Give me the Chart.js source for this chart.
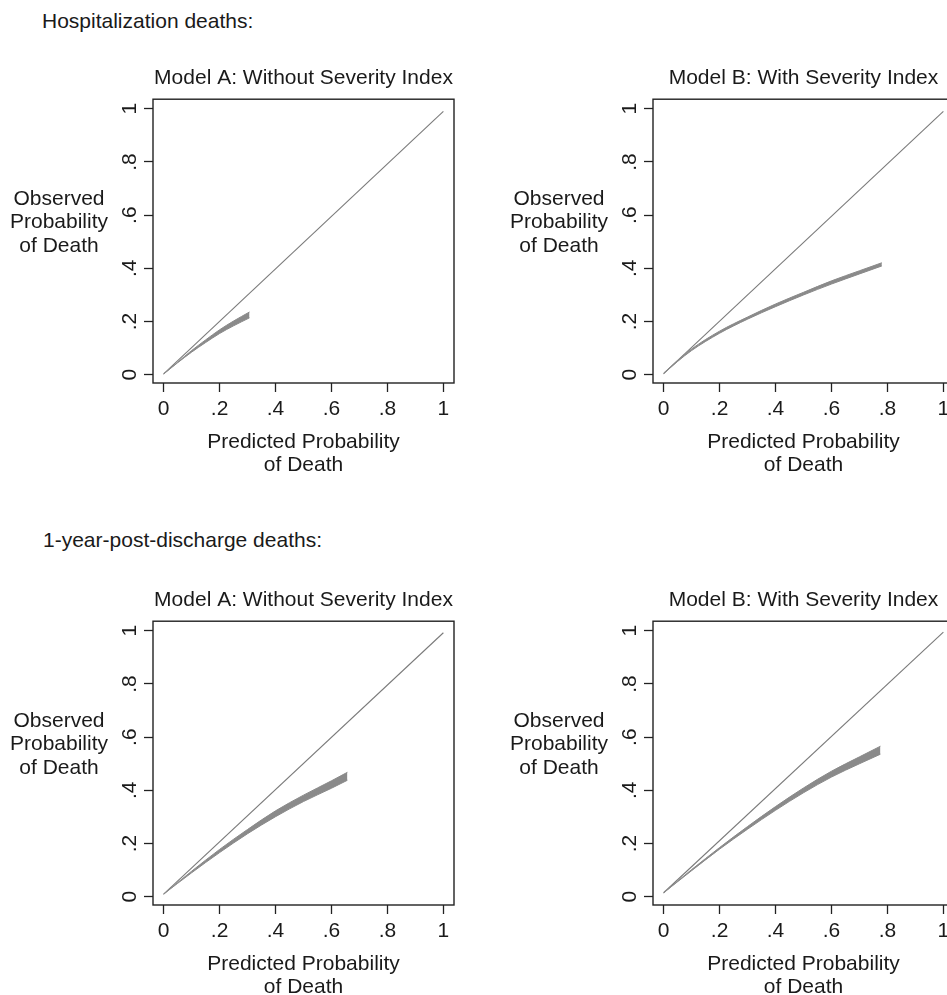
<!DOCTYPE html>
<html>
<head>
<meta charset="utf-8">
<script src="https://cdn.jsdelivr.net/npm/chart.js@4.4.1/dist/chart.umd.min.js"></script>
<style>
  html, body { margin: 0; padding: 0; background: #fff; overflow: hidden; }
  body { width: 947px; height: 995px; position: relative; }
  .hdr { position: absolute; font-family: "Liberation Sans", Arial, sans-serif; font-size: 21px; line-height: 21px; color: #1a1a1a; white-space: nowrap; }
  .panel { position: absolute; }
</style>
</head>
<body>
<div class="hdr" style="left:42px; top:10px">Hospitalization deaths:</div>
<div class="hdr" style="left:43px; top:529px">1-year-post-discharge deaths:</div>

<div class="panel" style="left:3px; top:59px"><canvas id="hospA" width="465" height="422"></canvas></div>
<div class="panel" style="left:503px; top:59px"><canvas id="hospB" width="465" height="422"></canvas></div>
<div class="panel" style="left:3px; top:581px"><canvas id="yearA" width="465" height="422"></canvas></div>
<div class="panel" style="left:503px; top:581px"><canvas id="yearB" width="465" height="422"></canvas></div>

<script>
// axis ticks shared by all four panels
const tickVals = [0, 0.2, 0.4, 0.6, 0.8, 1];
const tickLabels = ['0', '.2', '.4', '.6', '.8', '1'];
const diagX = [0, 1];

// Hospitalization deaths, model A
const hospA_x = [0, 0.05, 0.1, 0.15, 0.2, 0.25, 0.307];
const hospA_upper = [0.003, 0.047, 0.091, 0.131, 0.169, 0.202, 0.236];
const hospA_lower = [0.003, 0.045, 0.085, 0.121, 0.155, 0.184, 0.214];
const hospA_diag = [0.003, 0.99];

// Hospitalization deaths, model B
const hospB_x = [0, 0.05, 0.1, 0.2, 0.3, 0.4, 0.5, 0.6, 0.7, 0.78];
const hospB_upper = [0.006, 0.054, 0.097, 0.164, 0.217, 0.266, 0.310, 0.353, 0.391, 0.421];
const hospB_lower = [0.004, 0.050, 0.091, 0.156, 0.209, 0.256, 0.300, 0.341, 0.379, 0.409];
const hospB_diag = [0.004, 0.99];

// 1-year-post-discharge deaths, model A
const yearA_x = [0, 0.1, 0.2, 0.3, 0.4, 0.5, 0.6, 0.657];
const yearA_upper = [0.01, 0.096, 0.178, 0.253, 0.323, 0.382, 0.436, 0.468];
const yearA_lower = [0.01, 0.090, 0.166, 0.237, 0.301, 0.358, 0.408, 0.438];
const yearA_diag = [0.01, 0.9925];

// 1-year-post-discharge deaths, model B
const yearB_x = [0, 0.1, 0.2, 0.3, 0.4, 0.5, 0.6, 0.7, 0.775];
const yearB_upper = [0.015, 0.102, 0.185, 0.264, 0.339, 0.409, 0.472, 0.526, 0.566];
const yearB_lower = [0.015, 0.098, 0.179, 0.254, 0.325, 0.391, 0.45, 0.5, 0.536];
const yearB_diag = [0.015, 0.995];

const titleA = 'Model A: Without Severity Index';
const titleB = 'Model B: With Severity Index';
const yTitle = ['Observed', 'Probability', 'of Death'];
const xTitle = ['Predicted Probability', 'of Death'];

const FONT = '"Liberation Sans", Arial, sans-serif';
const INK = '#1a1a1a';
const BAND = '#8a8a8a';

// box around the plot area plus the horizontal y-axis title
const panelExtras = {
    id: 'panelExtras',
    afterDraw(chart) {
        const ctx = chart.ctx;
        const a = chart.chartArea;
        ctx.save();
        ctx.strokeStyle = '#222';
        ctx.lineWidth = 1.4;
        ctx.strokeRect(a.left, a.top, a.right - a.left, a.bottom - a.top);
        ctx.fillStyle = INK;
        ctx.font = '21px ' + FONT;
        ctx.textAlign = 'center';
        ctx.textBaseline = 'alphabetic';
        yTitle.forEach((line, i) => {
            ctx.fillText(line, a.left - 94, a.top + 105.5 + i * 23.6);
        });
        ctx.restore();
    }
};

function toPoints(xs, ys) {
    return xs.map((x, i) => ({ x: x, y: ys[i] }));
}

function makePanel(id, title, xs, upper, lower, diag) {
    const ctx = document.getElementById(id).getContext('2d');
    return new Chart(ctx, {
        type: 'line',
        data: {
            datasets: [
                {
                    data: toPoints(xs, upper),
                    borderColor: BAND,
                    backgroundColor: BAND,
                    borderWidth: 1,
                    pointRadius: 0,
                    cubicInterpolationMode: 'monotone',
                    fill: '+1'
                },
                {
                    data: toPoints(xs, lower),
                    borderColor: BAND,
                    borderWidth: 1,
                    pointRadius: 0,
                    cubicInterpolationMode: 'monotone',
                    fill: false
                },
                {
                    data: toPoints(diagX, diag),
                    borderColor: '#7a7a7a',
                    borderWidth: 1.1,
                    pointRadius: 0,
                    fill: false
                }
            ]
        },
        options: {
            responsive: false,
            animation: false,
            layout: { padding: { top: 0, right: 14, bottom: 0, left: 0 } },
            plugins: {
                legend: { display: false },
                tooltip: { enabled: false },
                title: {
                    display: true,
                    text: title,
                    fullSize: false,
                    color: INK,
                    font: { family: FONT, size: 21, weight: 'normal', lineHeight: 1.2 },
                    padding: { top: 7, bottom: 8 }
                }
            },
            scales: {
                x: {
                    type: 'linear',
                    min: -0.038,
                    max: 1.038,
                    afterBuildTicks: (scale) => { scale.ticks = tickVals.map(v => ({ value: v })); },
                    afterFit: (scale) => { scale.height = 98; },
                    ticks: {
                        color: INK,
                        padding: 5,
                        maxRotation: 0,
                        font: { family: FONT, size: 21, lineHeight: 1.2 },
                        callback: (v, i) => tickLabels[i]
                    },
                    grid: { drawOnChartArea: false, drawTicks: true, tickLength: 9, tickWidth: 1.3, tickColor: '#222' },
                    border: { display: false },
                    title: {
                        display: true,
                        text: xTitle,
                        color: INK,
                        font: { family: FONT, size: 21, lineHeight: 1.114 },
                        padding: { top: 0, bottom: 4 }
                    }
                },
                y: {
                    type: 'linear',
                    min: -0.031,
                    max: 1.036,
                    afterBuildTicks: (scale) => { scale.ticks = tickVals.map(v => ({ value: v })); },
                    afterFit: (scale) => { scale.width = 150; },
                    ticks: {
                        color: INK,
                        padding: 5,
                        minRotation: 90,
                        maxRotation: 90,
                        crossAlign: 'center',
                        font: { family: FONT, size: 21, lineHeight: 1.2 },
                        callback: (v, i) => tickLabels[i]
                    },
                    grid: { drawOnChartArea: false, drawTicks: true, tickLength: 9, tickWidth: 1.3, tickColor: '#222' },
                    border: { display: false }
                }
            }
        },
        plugins: [panelExtras]
    });
}

makePanel('hospA', titleA, hospA_x, hospA_upper, hospA_lower, hospA_diag);
makePanel('hospB', titleB, hospB_x, hospB_upper, hospB_lower, hospB_diag);
makePanel('yearA', titleA, yearA_x, yearA_upper, yearA_lower, yearA_diag);
makePanel('yearB', titleB, yearB_x, yearB_upper, yearB_lower, yearB_diag);
</script>
</body>
</html>
